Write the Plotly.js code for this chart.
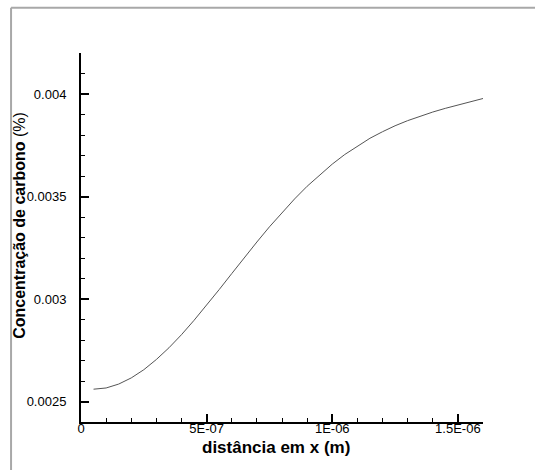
<!DOCTYPE html>
<html>
<head>
<meta charset="utf-8">
<script src="https://cdn.plot.ly/plotly-3.0.1.min.js"></script>
<style>html,body{margin:0;padding:0;background:#fff;}#chart{width:535px;height:470px;}</style>
</head>
<body>
<div id="chart"></div>
<script>
// distance (m)
const distance = [5e-8, 1e-7, 1.5e-7, 2e-7, 2.5e-7, 3e-7, 3.5e-7, 4e-7, 4.5e-7, 5e-7, 5.5e-7, 6e-7, 6.5e-7, 7e-7, 7.5e-7, 8e-7, 8.5e-7, 9e-7, 9.5e-7, 1e-6, 1.05e-6, 1.1e-6, 1.15e-6, 1.2e-6, 1.25e-6, 1.3e-6, 1.35e-6, 1.4e-6, 1.45e-6, 1.5e-6, 1.55e-6, 1.6e-6];
// carbon concentration (%)
const concentration = [0.002560, 0.002566, 0.002585, 0.002615, 0.002655, 0.002705, 0.002762, 0.002826, 0.002896, 0.002970, 0.003046, 0.003124, 0.003202, 0.003278, 0.003352, 0.003422, 0.003488, 0.003550, 0.003606, 0.003658, 0.003705, 0.003746, 0.003784, 0.003816, 0.003845, 0.003870, 0.003892, 0.003912, 0.003930, 0.003947, 0.003962, 0.003978];

const xTickVals = [0, 5e-7, 1e-6, 1.5e-6];
const xTickText = ["0", "5E-07", "1E-06", "1.5E-06"];
const yTickVals = [0.0025, 0.003, 0.0035, 0.004];
const yTickText = ["0.0025", "0.003", "0.0035", "0.004"];
const xTitle = '<b>distância em x (m)</b>';
const yTitle = '<b>Concentração de carbono</b> (%)';

const font = "Arial, 'Liberation Sans', sans-serif";

const trace = {
  x: distance, y: concentration, type: 'scatter', mode: 'lines',
  line: {color: '#555555', width: 1}, hoverinfo: 'none'
};

const layout = {
  width: 535, height: 470,
  margin: {l: 81, r: 52, t: 53, b: 48},
  paper_bgcolor: '#ffffff', plot_bgcolor: '#ffffff',
  showlegend: false,
  font: {family: font, color: '#000'},
  xaxis: {
    range: [0, 1.6e-6], showgrid: false, zeroline: false,
    showline: true, linecolor: '#000', linewidth: 2,
    tickmode: 'array', tickvals: xTickVals, ticktext: xTickText,
    ticks: 'inside', ticklen: 8, tickwidth: 2, tickcolor: '#000',
    tickfont: {size: 13, family: font}, ticklabelstandoff: -7,
    minor: {tickmode: 'linear', tick0: 0, dtick: 1e-7, ticks: 'inside', ticklen: 4, tickwidth: 1, tickcolor: '#000', showgrid: false}
  },
  yaxis: {
    range: [0.0024, 0.0042], showgrid: false, zeroline: false,
    showline: true, linecolor: '#000', linewidth: 2,
    tickmode: 'array', tickvals: yTickVals, ticktext: yTickText,
    ticks: 'inside', ticklen: 8, tickwidth: 2, tickcolor: '#000',
    tickfont: {size: 13, family: font}, ticklabelstandoff: 10,
    minor: {tickmode: 'linear', tick0: 0, dtick: 0.0001, ticks: 'inside', ticklen: 4, tickwidth: 1, tickcolor: '#000', showgrid: false}
  },
  annotations: [
    {text: xTitle, xref: 'paper', yref: 'paper', x: 0.484, y: -0.068, xanchor: 'center', yanchor: 'middle', showarrow: false, font: {size: 17, family: font}},
    {text: yTitle, xref: 'paper', yref: 'paper', x: -0.152, y: 0.534, xanchor: 'center', yanchor: 'middle', textangle: -90, showarrow: false, font: {size: 16, family: font}}
  ],
  shapes: [
    {type: 'line', xref: 'paper', yref: 'paper', x0: -0.174, x1: 1.2, y0: 1.1226, y1: 1.1226, line: {color: '#a8a8a8', width: 2}},
    {type: 'line', xref: 'paper', yref: 'paper', x0: -0.174, x1: -0.174, y0: 1.1226, y1: -0.2, line: {color: '#a8a8a8', width: 2}}
  ]
};

Plotly.newPlot('chart', [trace], layout, {displayModeBar: false, staticPlot: true});
</script>
</body>
</html>
